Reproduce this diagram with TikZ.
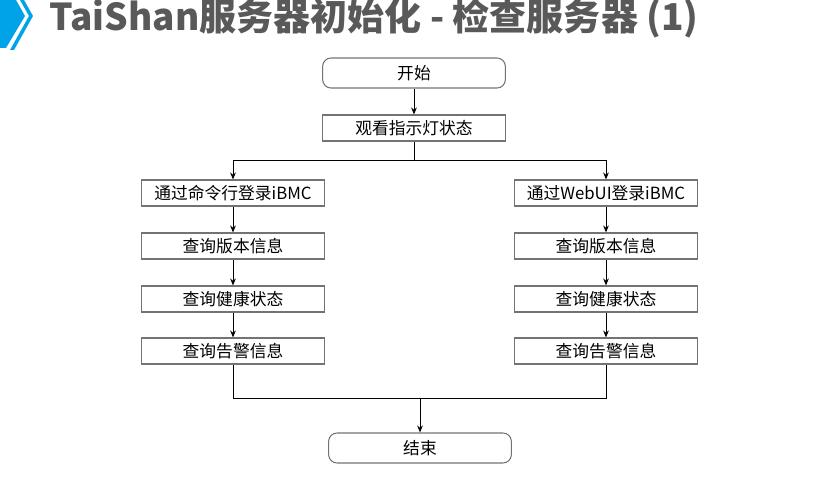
\documentclass[tikz,border=0pt]{standalone}
\usepackage{fontspec}
\setmainfont{Noto Sans CJK SC}
\usepackage{xcolor}
\usetikzlibrary{positioning, arrows.meta}
\definecolor{hwblue}{HTML}{00A3E8}
\definecolor{titlegray}{HTML}{595959}

\begin{document}
\begin{tikzpicture}[x=0.03cm, y=-0.03cm, >={Stealth[length=2.1mm,width=1.7mm]}, line width=0.8pt,
    box/.style={draw=black!55, line width=0.9pt, minimum width=5.48cm, minimum height=0.78cm, inner sep=0pt, font=\fontsize{14.3}{14.3}\selectfont},
    term/.style={box, rounded corners=2.5mm, minimum height=0.9cm}]
    \useasboundingbox (0,0) rectangle (826,485);
    % title
    \fill[hwblue] (0,0) -- (16,0) -- (25,16) -- (6,48) -- (0,48) -- cycle;
    \fill[hwblue] (20,0) -- (24,0) -- (33,16) -- (14,50) -- (10,50) -- (29,16) -- cycle;
    \node[anchor=base west, text=titlegray, font=\fontsize{31.6}{31.6}\selectfont\bfseries, inner sep=0pt] (title) at (49,31) {TaiShan服务器初始化 - 检查服务器 (1)};
    % flow
    \node[term] (start) at (414,73) {开始};
    \node[box] (look) at (414,128) {观看指示灯状态};
    \node[box] (cli) at (233,193) {通过命令行登录iBMC};
    \node[box] (cliver) at (233,246) {查询版本信息};
    \node[box] (clihealth) at (233,299) {查询健康状态};
    \node[box] (clialarm) at (233,351) {查询告警信息};
    \node[box] (web) at (606,193) {通过WebUI登录iBMC};
    \node[box] (webver) at (606,246) {查询版本信息};
    \node[box] (webhealth) at (606,299) {查询健康状态};
    \node[box] (webalarm) at (606,351) {查询告警信息};
    \node[term] (end) at (420,448) {结束};
    \coordinate (split) at (414,160);
    \coordinate (join) at (420,398);
    \draw[->] (start) -- (look);
    \draw (look) -- (split);
    \draw[->] (split) -| (cli); \draw[->] (split) -| (web);
    \draw[->] (cli) -- (cliver); \draw[->] (cliver) -- (clihealth); \draw[->] (clihealth) -- (clialarm);
    \draw[->] (web) -- (webver); \draw[->] (webver) -- (webhealth); \draw[->] (webhealth) -- (webalarm);
    \draw (clialarm) |- (join); \draw (webalarm) |- (join);
    \draw[->] (join) -- (end);
\end{tikzpicture}
\end{document}
